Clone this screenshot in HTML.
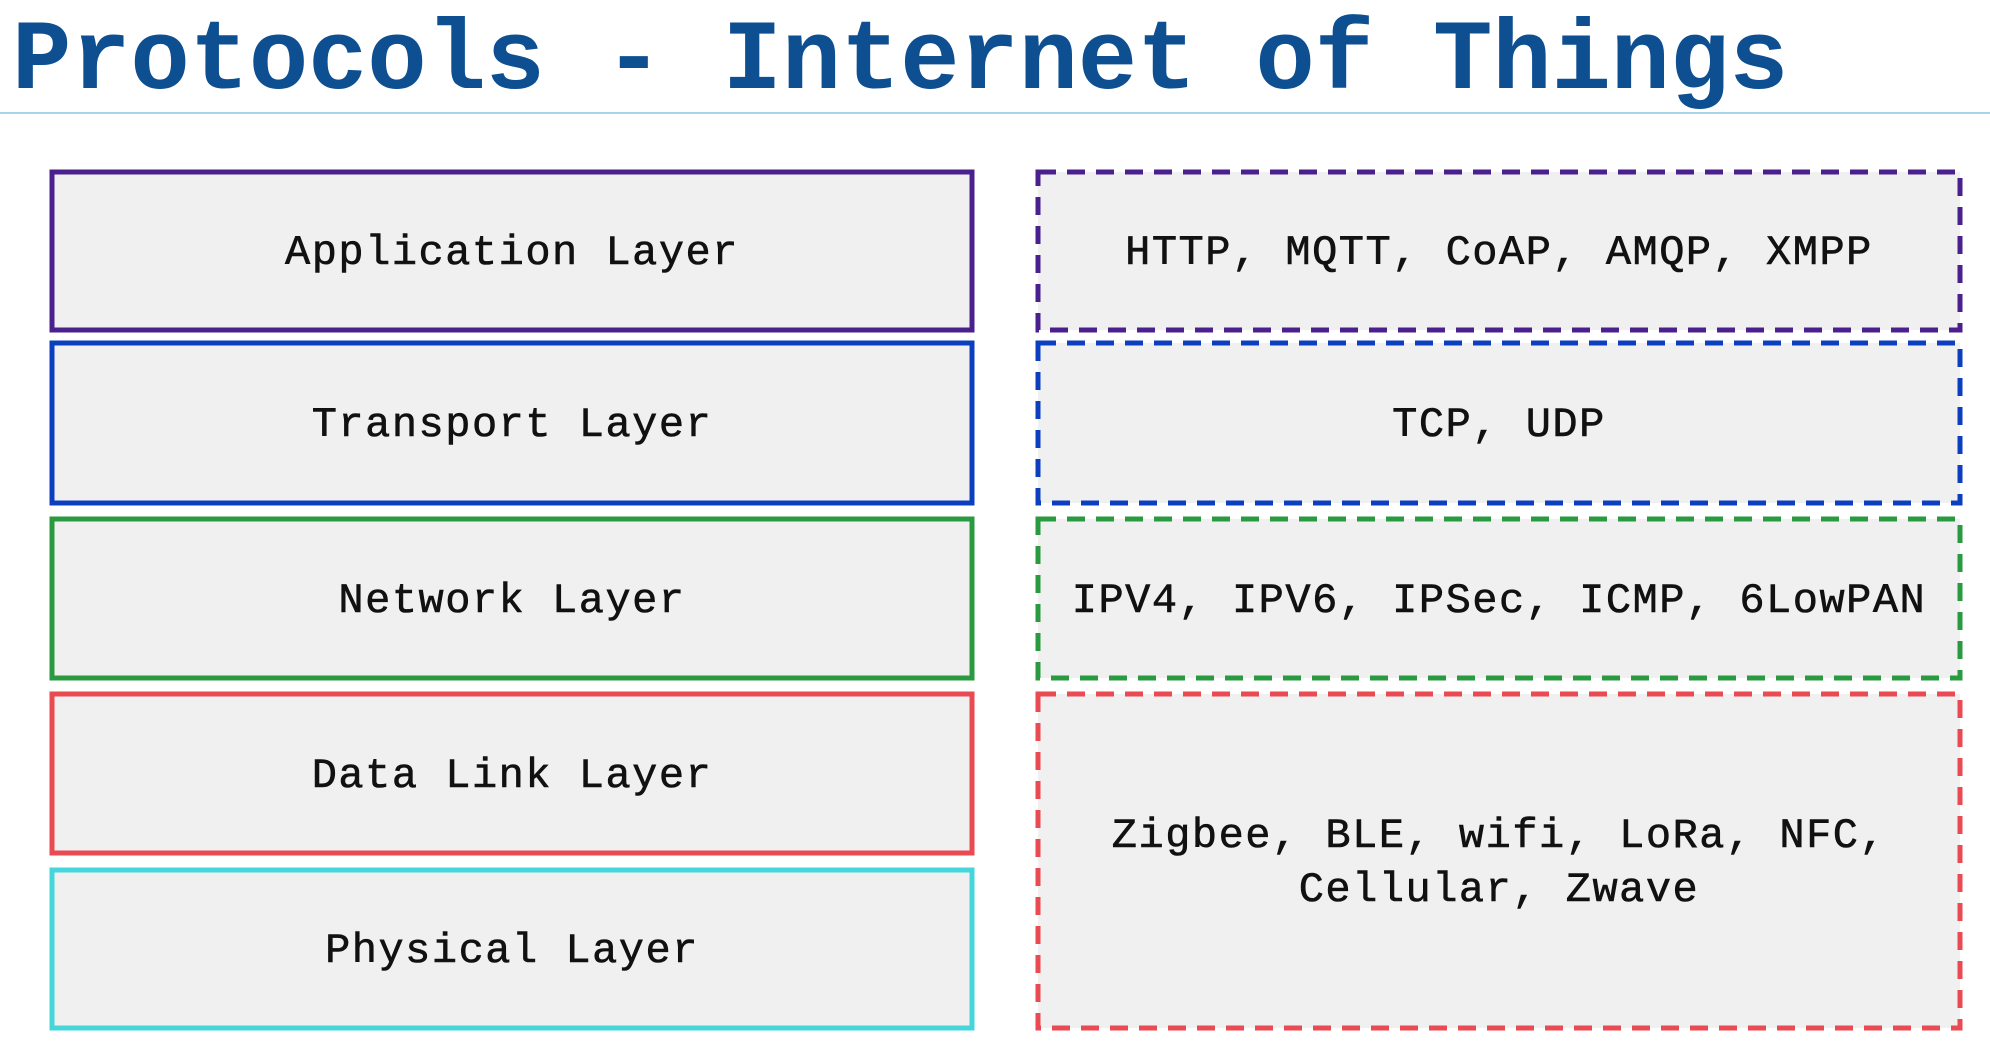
<!DOCTYPE html>
<html><head><style>
body{margin:0;width:1990px;height:1052px;background:#fff;overflow:hidden;position:relative;font-family:"Liberation Mono",monospace}
.t{position:absolute;left:12px;top:6px;font-size:99px;font-weight:bold;color:#0d4f91;white-space:nowrap;letter-spacing:-0.2px}
.line{position:absolute;left:0;top:112px;width:1990px;height:2px;background:#a9d3ea}
.lab{position:absolute;display:flex;align-items:center;justify-content:center;text-align:center;font-size:42px;color:#111;letter-spacing:1.5px;line-height:54px;-webkit-text-stroke:0.6px #111}
</style></head><body>
<div class="t">Protocols - Internet of Things</div>
<div class="line"></div>
<svg width="1990" height="1052" style="position:absolute;left:0;top:0">
<g stroke-width="5" fill="#f0f0f0">
<rect x="52" y="172" width="920" height="158" stroke="#4a1f8e"/>
<rect x="52" y="343" width="920" height="160" stroke="#0b3fbf"/>
<rect x="52" y="519" width="920" height="159" stroke="#2a9a40"/>
<rect x="52" y="694" width="920" height="159" stroke="#ea4a52"/>
<rect x="52" y="870" width="920" height="158" stroke="#44d6db"/>
</g>
<g stroke-width="5" fill="#f0f0f0" stroke-dasharray="18 11">
<rect x="1038" y="172" width="922" height="158" stroke="#4a1f8e"/>
<rect x="1038" y="343" width="922" height="160" stroke="#0b3fbf"/>
<rect x="1038" y="519" width="922" height="159" stroke="#2a9a40"/>
<rect x="1038" y="694" width="922" height="334" stroke="#ea4a52"/>
</g>
</svg>
<div class="lab" style="left:52px;top:174px;width:920px;height:158px">Application Layer</div>
<div class="lab" style="left:52px;top:345px;width:920px;height:160px">Transport Layer</div>
<div class="lab" style="left:52px;top:521px;width:920px;height:159px">Network Layer</div>
<div class="lab" style="left:52px;top:696px;width:920px;height:159px">Data Link Layer</div>
<div class="lab" style="left:52px;top:872px;width:920px;height:158px">Physical Layer</div>
<div class="lab" style="left:1038px;top:174px;width:922px;height:158px">HTTP, MQTT, CoAP, AMQP, XMPP</div>
<div class="lab" style="left:1038px;top:345px;width:922px;height:160px">TCP, UDP</div>
<div class="lab" style="left:1038px;top:521px;width:922px;height:159px">IPV4, IPV6, IPSec, ICMP, 6LowPAN</div>
<div class="lab" style="left:1038px;top:696px;width:922px;height:334px">Zigbee, BLE, wifi, LoRa, NFC,<br>Cellular, Zwave</div>
</body></html>
